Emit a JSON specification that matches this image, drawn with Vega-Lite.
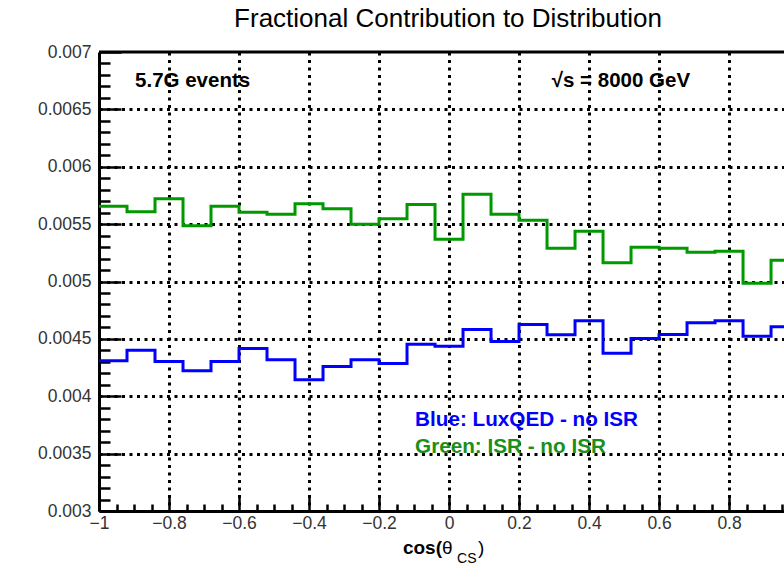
{
  "$schema": "https://vega.github.io/schema/vega-lite/v6.json",
  "autosize": {"type": "none"},
  "padding": {"left": 99, "top": 52, "right": 0, "bottom": 54},
  "width": 685,
  "height": 459,
  "background": "white",
  "config": {
    "view": {"stroke": null},
    "font": "Liberation Sans"
  },
  "data": {"values": [{}]},
  "datasets": {
    "hist": [
      {"series": "green", "x": -1.0, "v": 0.005656},
      {"series": "green", "x": -0.92, "v": 0.005607},
      {"series": "green", "x": -0.84, "v": 0.005721},
      {"series": "green", "x": -0.76, "v": 0.005485},
      {"series": "green", "x": -0.68, "v": 0.005656},
      {"series": "green", "x": -0.6, "v": 0.005604},
      {"series": "green", "x": -0.52, "v": 0.005587},
      {"series": "green", "x": -0.44, "v": 0.005677},
      {"series": "green", "x": -0.36, "v": 0.005633},
      {"series": "green", "x": -0.28, "v": 0.0055},
      {"series": "green", "x": -0.2, "v": 0.005546},
      {"series": "green", "x": -0.12, "v": 0.005671},
      {"series": "green", "x": -0.04, "v": 0.005369},
      {"series": "green", "x": 0.04, "v": 0.005761},
      {"series": "green", "x": 0.12, "v": 0.005587},
      {"series": "green", "x": 0.2, "v": 0.005534},
      {"series": "green", "x": 0.28, "v": 0.00529},
      {"series": "green", "x": 0.36, "v": 0.005438},
      {"series": "green", "x": 0.44, "v": 0.005163},
      {"series": "green", "x": 0.52, "v": 0.005299},
      {"series": "green", "x": 0.6, "v": 0.00529},
      {"series": "green", "x": 0.68, "v": 0.005255},
      {"series": "green", "x": 0.76, "v": 0.005264},
      {"series": "green", "x": 0.84, "v": 0.004985},
      {"series": "green", "x": 0.92, "v": 0.005186},
      {"series": "green", "x": 1.0, "v": 0.005186},
      {"series": "blue", "x": -1.0, "v": 0.004309},
      {"series": "blue", "x": -0.92, "v": 0.004401},
      {"series": "blue", "x": -0.84, "v": 0.004303},
      {"series": "blue", "x": -0.76, "v": 0.004222},
      {"series": "blue", "x": -0.68, "v": 0.004303},
      {"series": "blue", "x": -0.6, "v": 0.004416},
      {"series": "blue", "x": -0.52, "v": 0.004317},
      {"series": "blue", "x": -0.44, "v": 0.004143},
      {"series": "blue", "x": -0.36, "v": 0.004259},
      {"series": "blue", "x": -0.28, "v": 0.004317},
      {"series": "blue", "x": -0.2, "v": 0.004285},
      {"series": "blue", "x": -0.12, "v": 0.004454},
      {"series": "blue", "x": -0.04, "v": 0.004436},
      {"series": "blue", "x": 0.04, "v": 0.004582},
      {"series": "blue", "x": 0.12, "v": 0.004477},
      {"series": "blue", "x": 0.2, "v": 0.004625},
      {"series": "blue", "x": 0.28, "v": 0.004535},
      {"series": "blue", "x": 0.36, "v": 0.004657},
      {"series": "blue", "x": 0.44, "v": 0.004375},
      {"series": "blue", "x": 0.52, "v": 0.004503},
      {"series": "blue", "x": 0.6, "v": 0.004538},
      {"series": "blue", "x": 0.68, "v": 0.00464},
      {"series": "blue", "x": 0.76, "v": 0.004657},
      {"series": "blue", "x": 0.84, "v": 0.004523},
      {"series": "blue", "x": 0.92, "v": 0.004605},
      {"series": "blue", "x": 1.0, "v": 0.004605}
    ]
  },
  "layer": [
    {
      "data": {"name": "hist"},
      "mark": {"type": "line", "interpolate": "step-after", "strokeWidth": 3, "clip": true},
      "encoding": {
        "x": {
          "field": "x",
          "type": "quantitative",
          "scale": {"domain": [-1, 0.957], "nice": false, "zero": false},
          "axis": {
            "title": null,
            "tickCount": 500,
            "values": [-1, -0.95, -0.9, -0.85, -0.8, -0.75, -0.7, -0.65, -0.6, -0.55, -0.5, -0.45, -0.4, -0.35, -0.3, -0.25, -0.2, -0.15, -0.1, -0.05, 0, 0.05, 0.1, 0.15, 0.2, 0.25, 0.3, 0.35, 0.4, 0.45, 0.5, 0.55, 0.6, 0.65, 0.7, 0.75, 0.8, 0.85, 0.9, 0.95],
            "domainColor": "black",
            "domainWidth": 3,
            "tickColor": "black",
            "tickWidth": 2.5,
            "tickSize": {"condition": {"test": "abs(datum.value*5 - round(datum.value*5)) < 0.001", "value": -14}, "value": -7},
            "grid": true,
            "gridColor": "black",
            "gridWidth": 3,
            "gridDash": [3, 4.5],
            "gridOpacity": {"condition": {"test": "abs(datum.value*5 - round(datum.value*5)) < 0.001 && datum.value > -0.99", "value": 1}, "value": 0},
            "labelExpr": "abs(datum.value*5 - round(datum.value*5)) < 0.001 ? format(datum.value, '.1~f') : ''",
            "labelFont": "Liberation Sans",
            "labelFontSize": 17.5,
            "labelColor": "#333333",
            "labelPadding": 17,
            "labelFlush": false,
            "labelOverlap": false
          }
        },
        "y": {
          "field": "v",
          "type": "quantitative",
          "scale": {"domain": [0.003, 0.007], "nice": false, "zero": false},
          "axis": {
            "title": null,
            "tickCount": 500,
            "values": [0.003, 0.0031, 0.0032, 0.0033, 0.0034, 0.0035, 0.0036, 0.0037, 0.0038, 0.0039, 0.004, 0.0041, 0.0042, 0.0043, 0.0044, 0.0045, 0.0046, 0.0047, 0.0048, 0.0049, 0.005, 0.0051, 0.0052, 0.0053, 0.0054, 0.0055, 0.0056, 0.0057, 0.0058, 0.0059, 0.006, 0.0061, 0.0062, 0.0063, 0.0064, 0.0065, 0.0066, 0.0067, 0.0068, 0.0069, 0.007],
            "domainColor": "black",
            "domainWidth": 3,
            "tickColor": "black",
            "tickWidth": 2.5,
            "tickSize": {"condition": {"test": "abs(datum.value*2000 - round(datum.value*2000)) < 0.001", "value": -22}, "value": -11},
            "grid": true,
            "gridColor": "black",
            "gridWidth": 3,
            "gridDash": [3, 4.5],
            "gridOpacity": {"condition": {"test": "abs(datum.value*2000 - round(datum.value*2000)) < 0.001 && datum.value < 0.0069 && datum.value > 0.0031", "value": 1}, "value": 0},
            "labelExpr": "abs(datum.value*2000 - round(datum.value*2000)) < 0.001 ? format(datum.value, '.4~f') : ''",
            "labelFont": "Liberation Sans",
            "labelFontSize": 17.5,
            "labelColor": "#333333",
            "labelPadding": 30,
            "labelFlush": false,
            "labelOverlap": false
          }
        },
        "color": {
          "field": "series",
          "type": "nominal",
          "scale": {"domain": ["green", "blue"], "range": ["#009900", "#0000ff"]},
          "legend": null
        }
      }
    },
    {
      "mark": {"type": "rule", "strokeWidth": 3, "color": "black", "clip": false},
      "encoding": {"y": {"datum": 0.007}, "x": {"datum": -1}, "x2": {"datum": 0.957}}
    },
    {
      "mark": {"type": "text", "align": "center", "baseline": "alphabetic", "fontSize": 26, "color": "black", "clip": false},
      "encoding": {"x": {"datum": -0.003}, "y": {"datum": 0.007218}, "text": {"value": "Fractional Contribution to Distribution"}}
    },
    {
      "mark": {"type": "text", "align": "left", "baseline": "alphabetic", "fontSize": 20.5, "fontWeight": "bold", "color": "black", "clip": false},
      "encoding": {"x": {"datum": -0.897}, "y": {"datum": 0.006695}, "text": {"value": "5.7G events"}}
    },
    {
      "mark": {"type": "text", "align": "left", "baseline": "alphabetic", "fontSize": 20.5, "fontWeight": "bold", "color": "black", "clip": false},
      "encoding": {"x": {"datum": 0.2934}, "y": {"datum": 0.006695}, "text": {"value": "√s = 8000 GeV"}}
    },
    {
      "mark": {"type": "text", "align": "left", "baseline": "alphabetic", "fontSize": 20.7, "fontWeight": "bold", "color": "#0000ff", "clip": false},
      "encoding": {"x": {"datum": -0.097}, "y": {"datum": 0.003743}, "text": {"value": "Blue: LuxQED - no ISR"}}
    },
    {
      "mark": {"type": "text", "align": "left", "baseline": "alphabetic", "fontSize": 20.7, "fontWeight": "bold", "color": "#1a8f1a", "clip": false},
      "encoding": {"x": {"datum": -0.097}, "y": {"datum": 0.003503}, "text": {"value": "Green: ISR - no ISR"}}
    },
    {
      "mark": {"type": "text", "align": "right", "baseline": "alphabetic", "fontSize": 19, "fontWeight": "bold", "color": "black", "clip": false},
      "encoding": {"x": {"datum": -0.02}, "y": {"datum": 0.0026253}, "text": {"value": "cos("}}
    },
    {
      "mark": {"type": "text", "align": "left", "baseline": "alphabetic", "fontSize": 19, "color": "black", "clip": false},
      "encoding": {"x": {"datum": -0.02}, "y": {"datum": 0.0026253}, "text": {"value": "θ"}}
    },
    {
      "mark": {"type": "text", "align": "left", "baseline": "alphabetic", "fontSize": 14, "color": "black", "clip": false},
      "encoding": {"x": {"datum": 0.0229}, "y": {"datum": 0.0025468}, "text": {"value": "CS"}}
    },
    {
      "mark": {"type": "text", "align": "left", "baseline": "alphabetic", "fontSize": 19, "color": "black", "clip": false},
      "encoding": {"x": {"datum": 0.0829}, "y": {"datum": 0.0026253}, "text": {"value": ")"}}
    }
  ]
}
